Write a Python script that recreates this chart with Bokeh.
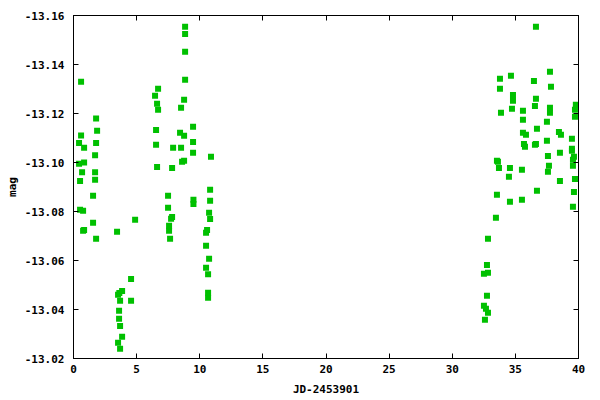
from bokeh.plotting import figure
from bokeh.models import Range1d, FixedTicker, PrintfTickFormatter, LinearAxis, CustomJSTickFormatter, ColumnDataSource
from bokeh.embed import file_html
from bokeh.resources import INLINE

jd = [
    0.60, 1.79, 0.60, 1.87, 0.44, 1.79, 0.84, 1.71, 0.84, 0.44, 0.68, 1.71, 0.52, 1.71, 1.55,
    0.52, 0.76, 1.55, 0.84, 0.76, 1.79,
    4.88, 3.45, 4.56, 3.85, 3.53, 3.63, 3.69, 4.56, 3.61, 3.61, 3.69, 3.85, 3.53, 3.69,
    8.84, 8.84, 8.84, 8.84, 6.70, 6.46, 8.76, 6.62, 6.70, 8.52, 9.47, 6.54, 8.44, 8.76, 6.54,
    7.89, 8.52, 9.47, 9.47, 8.76, 8.60, 6.62, 7.81, 7.49, 9.50, 9.50, 7.49, 7.81, 7.73, 7.57,
    7.57, 7.65,
    10.89, 10.82, 10.82, 10.74, 10.82, 10.58, 10.50, 10.50, 10.74, 10.50, 10.66, 10.66, 10.66,
    33.78, 33.78, 33.86, 33.54, 33.62, 33.70, 33.54, 33.46, 32.83, 32.75, 32.51, 32.83, 32.75,
    32.51, 32.67, 32.83, 32.59,
    34.65, 36.47, 36.63, 37.74, 37.82, 34.81, 36.63, 34.81, 36.55, 37.74, 34.73, 35.60, 37.74,
    39.79, 39.72, 39.72, 35.60, 37.50, 36.71, 35.60, 35.84, 38.45, 38.61, 39.48, 35.68, 35.76,
    36.55, 36.63, 37.50, 39.48, 39.48, 38.53, 37.58, 39.64, 39.56, 34.57, 35.52, 37.66, 37.58,
    39.56, 34.49, 38.53, 39.72, 36.71, 39.64, 34.57, 35.52, 39.56,
]
mag = [
    -13.1330, -13.1180, -13.1110, -13.1130, -13.1080, -13.1080, -13.1060, -13.1030, -13.1000,
    -13.0995, -13.0960, -13.0960, -13.0925, -13.0930, -13.0864, -13.0807, -13.0803, -13.0754,
    -13.0725, -13.0721, -13.0689,
    -13.0766, -13.0717, -13.0525, -13.0476, -13.0460, -13.0467, -13.0436, -13.0436, -13.0395,
    -13.0362, -13.0333, -13.0289, -13.0264, -13.0240,
    -13.1554, -13.1525, -13.1452, -13.1338, -13.1301, -13.1272, -13.1256, -13.1240, -13.1215,
    -13.1223, -13.1146, -13.1133, -13.1121, -13.1109, -13.1072, -13.1060, -13.1060, -13.1084,
    -13.1040, -13.1007, -13.1003, -13.0982, -13.0978, -13.0864, -13.0848, -13.0831, -13.0815,
    -13.0778, -13.0770, -13.0742, -13.0721, -13.0689,
    -13.1023, -13.0889, -13.0844, -13.0795, -13.0769, -13.0725, -13.0713, -13.0660, -13.0607,
    -13.0570, -13.0544, -13.0468, -13.0448,
    -13.1342, -13.1301, -13.1203, -13.1007, -13.1003, -13.0978, -13.0868, -13.0774, -13.0689,
    -13.0582, -13.0546, -13.0550, -13.0456, -13.0415, -13.0403, -13.0387, -13.0358,
    -13.1354, -13.1333, -13.1554, -13.1370, -13.1309, -13.1276, -13.1260, -13.1252, -13.1231,
    -13.1223, -13.1219, -13.1211, -13.1203,
    -13.1236, -13.1215, -13.1187, -13.1174, -13.1166, -13.1138, -13.1121, -13.1113, -13.1125,
    -13.1113, -13.1097, -13.1076, -13.1064, -13.1072, -13.1076, -13.1089, -13.1056, -13.1048,
    -13.1040, -13.1027, -13.1023, -13.1011, -13.0978, -13.0970, -13.0987, -13.0962, -13.0987,
    -13.0942, -13.0925, -13.0933, -13.0885, -13.0880, -13.0840, -13.0848, -13.0819,
]

x_ticks = [0, 5, 10, 15, 20, 25, 30, 35, 40]
y_ticks = [-13.16, -13.14, -13.12, -13.10, -13.08, -13.06, -13.04, -13.02]

FONT = "DejaVu Sans Mono"
FS = "11px"

p = figure(width=600, height=400, output_backend="svg", toolbar_location=None,
           x_range=Range1d(0, 40), y_range=Range1d(-13.02, -13.16),
           min_border_left=73, min_border_right=22, min_border_top=15, min_border_bottom=42)
p.grid.visible = False
p.outline_line_color = "black"
p.background_fill_color = "white"
p.border_fill_color = "white"

src = ColumnDataSource(data=dict(x=jd, y=mag))
p.scatter("x", "y", source=src, marker="square", size=6, fill_color="#00C000", line_color="#00C000", line_width=0)

for ax in (p.xaxis[0], p.yaxis[0]):
    ax.major_tick_in = 5
    ax.major_tick_out = 0
    ax.minor_tick_line_color = None
    ax.major_label_text_font = FONT
    ax.major_label_text_font_size = FS
    ax.major_label_text_font_style = "bold"
    ax.major_label_text_color = "black"
    ax.axis_label_text_font = FONT
    ax.axis_label_text_font_size = FS
    ax.axis_label_text_font_style = "bold"
    ax.axis_label_text_color = "black"
    ax.axis_line_color = "black"
    ax.major_tick_line_color = "black"

p.xaxis.ticker = FixedTicker(ticks=x_ticks)
p.xaxis.formatter = PrintfTickFormatter(format="%d")
p.xaxis.axis_label = "JD-2453901"
p.xaxis.major_label_standoff = 6
p.xaxis.axis_label_standoff = 7

p.yaxis.ticker = FixedTicker(ticks=y_ticks)
p.yaxis.formatter = PrintfTickFormatter(format="%.2f")
p.yaxis.axis_label = "mag"
p.yaxis.major_label_standoff = 9
p.yaxis.axis_label_standoff = 3

blank = CustomJSTickFormatter(code="return ''")
top = LinearAxis(ticker=FixedTicker(ticks=x_ticks), formatter=blank, major_tick_in=5, major_tick_out=0,
                 minor_tick_line_color=None, major_label_standoff=0, major_label_text_font_size="0px",
                 axis_line_color="black", major_tick_line_color="black")
right = LinearAxis(ticker=FixedTicker(ticks=y_ticks), formatter=blank, major_tick_in=5, major_tick_out=0,
                   minor_tick_line_color=None, major_label_standoff=0, major_label_text_font_size="0px",
                   axis_line_color="black", major_tick_line_color="black")
p.add_layout(top, "above")
p.add_layout(right, "right")

open("out.html", "w").write(file_html(p, INLINE))
